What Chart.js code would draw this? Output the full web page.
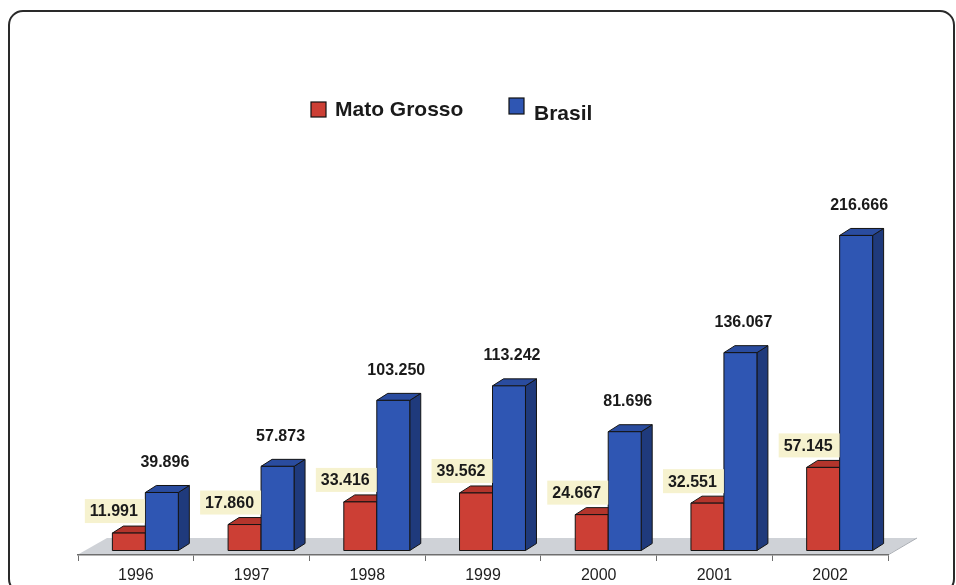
<!DOCTYPE html>
<html>
<head>
<meta charset="utf-8">
<script src="https://cdn.jsdelivr.net/npm/chart.js@4/dist/chart.umd.min.js"></script>
<style>
html,body{margin:0;padding:0;background:#fff;}
#wrap{position:relative;width:956px;height:585px;}
</style>
</head>
<body>
<div id="wrap"><canvas id="c" width="956" height="585"></canvas></div>
<script>
const years = ['1996','1997','1998','1999','2000','2001','2002'];
const matoGrosso = [11.991, 17.860, 33.416, 39.562, 24.667, 32.551, 57.145];
const brasil = [39.896, 57.873, 103.250, 113.242, 81.696, 136.067, 216.666];
const seriesNames = ['Mato Grosso', 'Brasil'];

const fmt = v => v.toFixed(3);

const COLORS = {
  red:  {front:'#cc3f35', top:'#b3352c', side:'#8e2a23'},
  blue: {front:'#2f56b3', top:'#2a4c9f', side:'#1f3a7c'}
};

const DEPTH_X = 11, DEPTH_Y = 7;      // bar depth projection
const SHIFT_X = 9.5, SHIFT_Y = -4.5;  // bars sit mid-depth on the floor
const FLOOR_X = 29, FLOOR_Y = 17;

function drawBox(ctx, el, col) {
  const w = el.width;
  const xl = el.x - w/2 + SHIFT_X, xr = el.x + w/2 + SHIFT_X;
  const top = el.y + SHIFT_Y, bot = el.base + SHIFT_Y;
  ctx.lineWidth = 1;
  ctx.strokeStyle = '#141414';
  ctx.lineJoin = 'round';
  ctx.beginPath();
  ctx.moveTo(xr, top); ctx.lineTo(xr+DEPTH_X, top-DEPTH_Y);
  ctx.lineTo(xr+DEPTH_X, bot-DEPTH_Y); ctx.lineTo(xr, bot); ctx.closePath();
  ctx.fillStyle = col.side; ctx.fill(); ctx.stroke();
  ctx.beginPath();
  ctx.moveTo(xl, top); ctx.lineTo(xl+DEPTH_X, top-DEPTH_Y);
  ctx.lineTo(xr+DEPTH_X, top-DEPTH_Y); ctx.lineTo(xr, top); ctx.closePath();
  ctx.fillStyle = col.top; ctx.fill(); ctx.stroke();
  ctx.beginPath();
  ctx.rect(xl, top, xr-xl, bot-top);
  ctx.fillStyle = col.front; ctx.fill(); ctx.stroke();
}

const plugin3d = {
  id: 'bars3d',
  beforeDraw(chart) {
    const ctx = chart.ctx;
    const a = chart.chartArea;
    ctx.save();
    ctx.strokeStyle = '#2a2a2a';
    ctx.lineWidth = 2;
    ctx.beginPath();
    ctx.roundRect(9, 11, 945, 582, 14);
    ctx.stroke();
    ctx.beginPath();
    ctx.moveTo(a.left, a.bottom - 0.5);
    ctx.lineTo(a.left + FLOOR_X, a.bottom - FLOOR_Y);
    ctx.lineTo(a.right + FLOOR_X, a.bottom - FLOOR_Y);
    ctx.lineTo(a.right, a.bottom - 0.5);
    ctx.closePath();
    ctx.fillStyle = '#cfd2d7';
    ctx.fill();
    ctx.strokeStyle = '#a9adb3';
    ctx.lineWidth = 1;
    ctx.beginPath();
    ctx.moveTo(a.right, a.bottom);
    ctx.lineTo(a.right + FLOOR_X, a.bottom - FLOOR_Y);
    ctx.stroke();
    ctx.font = 'bold 21px "Liberation Sans", Arial, sans-serif';
    ctx.textBaseline = 'alphabetic';
    ctx.fillStyle = COLORS.red.front;
    ctx.fillRect(311, 102, 15, 15);
    ctx.strokeStyle = '#111'; ctx.lineWidth = 1.2;
    ctx.strokeRect(311, 102, 15, 15);
    ctx.fillStyle = '#1a1a1a';
    ctx.fillText(seriesNames[0], 335, 116);
    ctx.fillStyle = COLORS.blue.front;
    ctx.fillRect(509, 98, 15, 16);
    ctx.strokeRect(509, 98, 15, 16);
    ctx.fillStyle = '#1a1a1a';
    ctx.fillText(seriesNames[1], 534, 120);
    ctx.restore();
  },
  beforeDatasetsDraw(chart) {
    const ctx = chart.ctx;
    const m0 = chart.getDatasetMeta(0).data;
    const m1 = chart.getDatasetMeta(1).data;
    ctx.save();
    for (let i = 0; i < m0.length; i++) {
      drawBox(ctx, m0[i], COLORS.red);
      drawBox(ctx, m1[i], COLORS.blue);
    }
    ctx.font = 'bold 16px "Liberation Sans", Arial, sans-serif';
    ctx.textAlign = 'center';
    ctx.textBaseline = 'middle';
    for (let i = 0; i < m0.length; i++) {
      const r = m0[i], b = m1[i];
      const rt = fmt(matoGrosso[i]);
      const rx = r.x + SHIFT_X - 15, ry = r.y + SHIFT_Y - 22;
      const tw = ctx.measureText(rt).width;
      ctx.fillStyle = '#f6f2cf';
      ctx.fillRect(rx - tw/2 - 5, ry - 12, tw + 12, 24);
      ctx.fillStyle = '#1a1a1a';
      ctx.fillText(rt, rx, ry + 1);
      const bt = fmt(brasil[i]);
      ctx.fillText(bt, b.x + SHIFT_X + 3, b.y + SHIFT_Y - 30);
    }
    ctx.restore();
    return false;
  }
};

new Chart(document.getElementById('c'), {
  type: 'bar',
  data: {
    labels: years,
    datasets: [
      {label: seriesNames[0], data: matoGrosso, backgroundColor: COLORS.red.front},
      {label: seriesNames[1], data: brasil, backgroundColor: COLORS.blue.front}
    ]
  },
  options: {
    responsive: false,
    animation: false,
    devicePixelRatio: 1,
    categoryPercentage: 0.57,
    barPercentage: 1,
    layout: {padding: {left: 78, right: 68, top: 191.5, bottom: 0}},
    plugins: {legend: {display: false}, tooltip: {enabled: false}},
    scales: {
      x: {
        afterFit: s => { s.height = 30; },
        border: {display: true, color: '#6e6e6e', width: 1.5},
        grid: {display: true, drawOnChartArea: false, drawTicks: true, tickLength: 6, color: '#6e6e6e', offset: true},
        ticks: {color: '#1e1e1e', padding: 7, font: {family: '"Liberation Sans", Arial, sans-serif', size: 16, lineHeight: 1}}
      },
      y: {display: false, min: 0, max: 250}
    }
  },
  plugins: [plugin3d]
});
</script>
</body>
</html>
